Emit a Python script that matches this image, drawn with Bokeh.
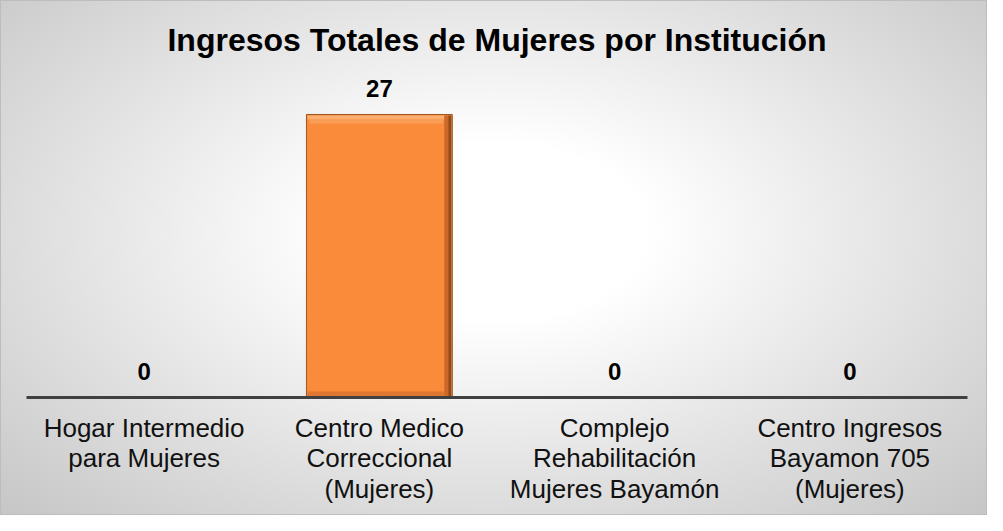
from bokeh.plotting import figure
from bokeh.models import FixedTicker, Range1d
from bokeh.core.properties import value
from bokeh.embed import file_html
from bokeh.resources import INLINE

# ---- data ----
categories = [
    "Hogar Intermedio\npara Mujeres",
    "Centro Medico\nCorreccional\n(Mujeres)",
    "Complejo\nRehabilitación\nMujeres Bayamón",
    "Centro Ingresos\nBayamon 705\n(Mujeres)",
]
values = [0, 27, 0, 0]
title_text = "Ingresos Totales de Mujeres por Institución"

FONT = "Liberation Sans"
xs = list(range(len(categories)))
bar_w = 0.62
Y_END = 31.1

p = figure(
    width=987, height=515,
    x_range=Range1d(-0.5, len(categories) - 0.5),
    y_range=Range1d(0, Y_END),
    output_backend="svg", toolbar_location=None,
    min_border_left=25, min_border_right=21, min_border_top=70, min_border_bottom=119,
    title=title_text,
)
p.styles = {
    "background": "radial-gradient(ellipse farthest-corner at 50% 45%, #ffffff 0%, #ffffff 22%, #c6c6c6 100%)",
    "border": "1px solid #bdbdbd",
    "box-sizing": "border-box",
}
p.background_fill_alpha = 0
p.border_fill_alpha = 0
p.outline_line_color = None
p.grid.visible = False
p.yaxis.visible = False

p.title.align = "center"
p.title.text_font = FONT
p.title.text_font_size = "32px"
p.title.text_font_style = "bold"
p.title.text_color = "#000000"
p.title.standoff = 27

ax = p.xaxis[0]
ax.ticker = FixedTicker(ticks=xs)
ax.major_label_overrides = {i: c for i, c in zip(xs, categories)}
ax.major_tick_line_color = None
ax.minor_tick_line_color = None
ax.axis_line_color = "#404040"
ax.axis_line_width = 3
ax.major_label_standoff = 9
ax.major_label_text_font = FONT
ax.major_label_text_font_size = "26px"
ax.major_label_text_color = "#111111"
ax.major_label_text_line_height = 1.03

# ---- bars with bevel styling ----
lefts = [x - bar_w / 2 for x in xs]
rights = [x + bar_w / 2 for x in xs]
px_x = 1.0 / 235.25
px_y = Y_END / 326.0
nz = [i for i, v in enumerate(values) if v > 0]
L = [lefts[i] for i in nz]
R = [rights[i] for i in nz]
T = [values[i] for i in nz]

p.quad(left=L, right=R, top=T, bottom=[0] * len(nz),
       fill_color="#F98B3B", line_color="#9A5522", line_width=1)
# top highlight (two tones)
p.quad(left=[l + px_x for l in L], right=[r - 8 * px_x for r in R],
       top=[t - px_y for t in T], bottom=[t - 5 * px_y for t in T],
       fill_color="#FCAE70", line_color=None)
p.quad(left=[l + 3 * px_x for l in L], right=[r - 9 * px_x for r in R],
       top=[t - 5 * px_y for t in T], bottom=[t - 9 * px_y for t in T],
       fill_color="#FB9E55", line_color=None)
# bottom shade
p.quad(left=[l + px_x for l in L], right=[r - 8 * px_x for r in R],
       top=[6 * px_y] * len(nz), bottom=[0] * len(nz),
       fill_color="#DE7731", line_color=None)
# right shade
p.quad(left=[r - 8 * px_x for r in R], right=[r - 4 * px_x for r in R],
       top=[t - px_y for t in T], bottom=[0] * len(nz),
       fill_color="#C9692A", line_color=None)
p.quad(left=[r - 4 * px_x for r in R], right=[r - px_x for r in R],
       top=[t - px_y for t in T], bottom=[0] * len(nz),
       fill_color="#8F4B1B", line_color=None)

# ---- value labels ----
p.text(x=xs, y=values, text=[str(v) for v in values],
       text_align="center", text_baseline="alphabetic", y_offset=-26,
       text_font=value(FONT), text_font_size="24px", text_font_style="bold",
       text_color="#000000")

open("out.html", "w").write(file_html(p, INLINE))
